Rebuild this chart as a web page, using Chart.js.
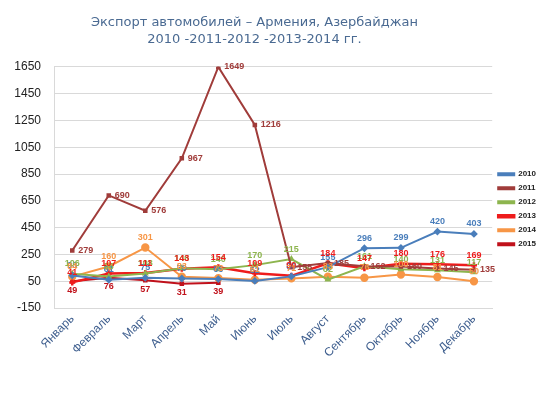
<!DOCTYPE html>
<html lang="ru">
<head>
<meta charset="utf-8">
<title>Экспорт автомобилей – Армения, Азербайджан</title>
<script src="https://cdn.jsdelivr.net/npm/chart.js@4.4.1/dist/chart.umd.min.js"></script>
<style>
  html, body { margin: 0; padding: 0; background: #ffffff; }
  #wrap { width: 550px; height: 412px; position: relative; }
</style>
</head>
<body>
<div id="wrap"><canvas id="exportChart"></canvas></div>
<script>
const months = ["Январь", "Февраль", "Март", "Апрель", "Май", "Июнь",
  "Июль", "Август", "Сентябрь", "Октябрь", "Ноябрь", "Декабрь"];

const values2010 = [93, 61, 75, 70, 66, 52, 86, 155, 296, 299, 420, 403];
const values2011 = [279, 690, 576, 967, 1649, 1216, 155, 185, 162, 160, 145, 135];
const values2012 = [106, 86, 108, 146, 140, 170, 215, 62, 161, 140, 131, 117];
const values2013 = [41, 107, 111, 143, 154, 109, 90, 184, 147, 180, 176, 169];
const values2014 = [84, 160, 301, 83, 73, 61, 71, 83, 76, 100, 81, 50];
const values2015 = [49, 76, 57, 31, 39];

const titleLines = ["Экспорт автомобилей – Армения, Азербайджан", "2010 -2011-2012 -2013-2014 гг."];

// the title in the original sits a bit left of centre; trailing spaces shift it
const titleShift = "\u00A0".repeat(9);

// labelPos: [dx, dy, align] for the value labels of one series
function series(label, data, color, opts, labelPos) {
  return {
    label,
    data,
    borderColor: color,
    backgroundColor: color,
    pointBackgroundColor: color,
    pointBorderColor: color,
    borderWidth: 2,
    pointRadius: 2,
    pointStyle: "rectRot",
    tension: 0,
    labelPos,
    ...opts,
  };
}

const valueLabels = {
  id: "valueLabels",
  afterDatasetsDraw(chart) {
    const { ctx } = chart;
    ctx.save();
    ctx.font = "bold 9px 'Liberation Sans', Arial, sans-serif";
    ctx.textBaseline = "middle";
    chart.data.datasets.forEach((ds, i) => {
      const meta = chart.getDatasetMeta(i);
      const [dx, dy, align] = ds.labelPos;
      ctx.fillStyle = ds.borderColor;
      ctx.textAlign = align;
      meta.data.forEach((pt, j) => {
        ctx.fillText(String(ds.data[j]), pt.x + dx, pt.y + dy);
      });
    });
    ctx.restore();
  },
};

new Chart(document.getElementById("exportChart"), {
  type: "line",
  data: {
    labels: months,
    datasets: [
      series("2010", values2010, "#4A7EBB", { pointStyle: "rectRot", pointRadius: 2.5 }, [0, -10, "center"]),
      series("2011", values2011, "#A03C3A", { pointStyle: "rect", pointRadius: 1.8 }, [6, 0, "left"]),
      series("2012", values2012, "#8DB54E", { pointStyle: "triangle", pointRadius: 2 }, [0, -10, "center"]),
      series("2013", values2013, "#EE1C1C", { pointStyle: "cross", pointRadius: 3, borderWidth: 2.5 }, [0, -10, "center"]),
      series("2014", values2014, "#F79646", { pointStyle: "circle", pointRadius: 3.2 }, [0, -10, "center"]),
      series("2015", values2015, "#C0111B", { pointStyle: "rect", pointRadius: 1.8 }, [0, 9, "center"]),
    ],
  },
  options: {
    responsive: true,
    maintainAspectRatio: false,
    animation: false,
    layout: { padding: { left: 0, right: 4, top: 8, bottom: 0 } },
    scales: {
      x: {
        offset: true,
        grid: { display: false, drawTicks: false },
        border: { display: true, color: "#D9D9D9" },
        ticks: {
          maxRotation: 45,
          minRotation: 45,
          color: "#3E5E8E",
          padding: 4,
          font: { family: "'Liberation Sans', Arial, sans-serif", size: 12 },
        },
        afterFit(scale) { scale.height = 104; },
      },
      y: {
        min: -150,
        max: 1650,
        ticks: {
          stepSize: 200,
          color: "#222222",
          padding: 13,
          font: { family: "'Liberation Sans', Arial, sans-serif", size: 12 },
          callback: (value) => String(value),
        },
        grid: { color: "#D9D9D9", drawTicks: false },
        border: { display: true, color: "#D9D9D9" },
        afterFit(scale) { scale.width = 54; },
      },
    },
    plugins: {
      title: {
        display: true,
        text: titleLines.map((line) => line + titleShift),
        color: "#4A6A92",
        font: { family: "'DejaVu Sans', sans-serif", size: 13, weight: "normal", lineHeight: 1.3 },
        padding: { top: 6, bottom: 19 },
      },
      legend: {
        position: "right",
        fullSize: false,
        title: { display: true, text: " ", padding: 17, font: { size: 8 } },
        labels: {
          boxWidth: 16,
          boxHeight: 2,
          padding: 6,
          color: "#222222",
          font: { family: "'Liberation Sans', Arial, sans-serif", size: 8, weight: "bold" },
        },
      },
      tooltip: { enabled: false },
    },
  },
  plugins: [valueLabels],
});
</script>
</body>
</html>
